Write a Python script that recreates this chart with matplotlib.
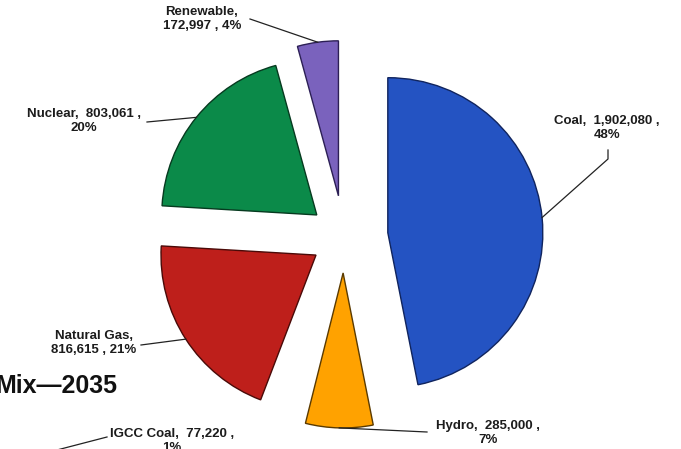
import numpy as np
import matplotlib.pyplot as plt

plt.rcParams['font.family'] = ['Liberation Sans', 'DejaVu Sans']

# generation by source (MWh), in pie order
sources = ["Coal", "Hydro", "IGCC Coal", "Natural Gas", "Nuclear", "Renewable"]
values = [1902080, 285000, 77220, 816615, 803061, 172997]
pct_text = ["48%", "7%", "1%", "21%", "20%", "4%"]
colors = ["#2453C2", "#FFA200", "#7A8FD0", "#BE1F1B", "#0B8A49", "#7A62BD"]
edges = ["#10245e", "#5a3a00", "#333333", "#4a0a08", "#063a1f", "#2c1f55"]
explode = [0.284, 0.232, 2.0, 0.215, 0.226, 0.268]   # fraction of radius
break_after_name = [False, False, False, True, False, True]

fig = plt.figure(figsize=(6.81, 4.49), dpi=100)
ax = fig.add_axes([0, 0, 1, 1])

cx, cy, R = 344, 212, 155
# pie offsets wedges in data units, so scale by the radius
wedges, _ = ax.pie(values, explode=[e * R for e in explode], colors=colors,
                   startangle=90, counterclock=False, center=(cx, cy),
                   radius=R, wedgeprops=dict(linewidth=1.0))
for w, ec in zip(wedges, edges):
    w.set_edgecolor(ec)

ax.set_xlim(0, 681)
ax.set_ylim(0, 449)
ax.set_aspect('equal')
ax.axis('off')


def arc_mid(i):
    # midpoint of the outer arc of wedge i, after exploding
    w = wedges[i]
    mid = np.deg2rad((w.theta1 + w.theta2) / 2)
    d = (1 + explode[i]) * R
    return cx + d * np.cos(mid), cy + d * np.sin(mid)


# label position and the start of each leader line
label_pos = [(607, 321), (488, 16), (172, 8), (94, 106), (84, 328), (202, 430)]
line_start = [[(608, 299), (608, 290)], [(427, 17)], None, [(141, 104)],
              [(147, 327)], [(250, 430)]]

for i, name in enumerate(sources):
    if break_after_name[i]:
        txt = f"{name},\n{values[i]:,} , {pct_text[i]}"
    else:
        txt = f"{name},  {values[i]:,} ,\n{pct_text[i]}"
    ax.text(*label_pos[i], txt, ha='center', va='center', fontsize=9.5,
            fontweight='bold', color='#1c1c1c', linespacing=1.3)
    if line_start[i] is not None:
        pts = line_start[i] + [arc_mid(i)]
        xs, ys = zip(*pts)
        ax.plot(xs, ys, color='#222222', lw=0.9)

# IGCC leader runs off the lower-left edge
ax.plot([107, 30], [12, -8], color='#222222', lw=0.9)

# slide title, clipped at the left edge
ax.text(117, 56, "Mix\u20142035", ha='right', va='baseline', fontsize=18,
        fontweight='bold', color='#111111')

fig.savefig("out.png", dpi=100)
